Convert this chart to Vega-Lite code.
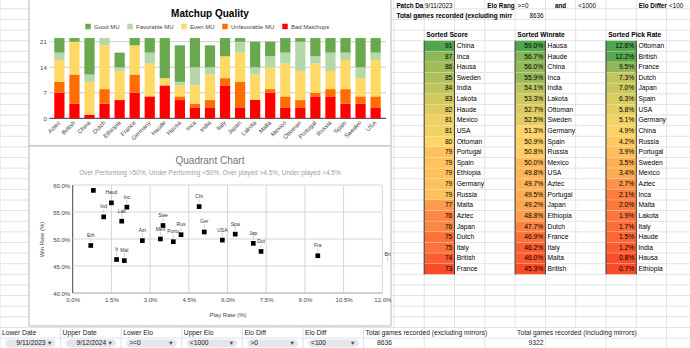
{
"$schema":"https://vega.github.io/schema/vega-lite/v6.json",
"width":690,"height":348,"autosize":"none","padding":0,"background":"#ffffff",
"config":{"view":{"stroke":null},"font":"Liberation Sans",
 "axis":{"labelFont":"Liberation Sans","titleFont":"Liberation Sans","grid":false,"ticks":false,"domain":false,"labelColor":"#444444","titleColor":"#444444","labelFontSize":6,"titleFontSize":6,"titleFontWeight":"normal","labelOverlap":false,"labelFlush":false,"labelBound":false},
 "legend":{"labelFont":"Liberation Sans"}},
"datasets":{
 "cols":[{"col":0},{"col":1},{"col":2},{"col":3},{"col":4},{"col":5},{"col":6},{"col":7},{"col":8},{"col":9},{"col":10},{"col":11},{"col":12},{"col":13},{"col":14},{"col":15},{"col":16},{"col":17},{"col":18},{"col":19},{"col":20},{"col":21},{"col":22},{"col":23}],
 "rows":[{"row":-4},{"row":-3},{"row":-2},{"row":-1},{"row":0},{"row":1},{"row":2},{"row":3},{"row":4},{"row":5},{"row":6},{"row":7},{"row":8},{"row":9},{"row":10},{"row":11},{"row":12},{"row":13},{"row":14},{"row":15},{"row":16},{"row":17},{"row":18},{"row":19},{"row":20},{"row":21},{"row":22},{"row":23},{"row":24},{"row":25},{"row":26},{"row":27},{"row":28},{"row":29}],
 "header":[
  {"row":-4,"col":13,"text":"Patch Date","kind":"label"},
  {"row":-4,"col":14,"text":"9/11/2023","kind":"number"},
  {"row":-4,"col":16,"text":"Elo Range","kind":"label"},
  {"row":-4,"col":17,"text":">=0","kind":"value"},
  {"row":-4,"col":18,"text":"and","kind":"center"},
  {"row":-4,"col":19,"text":"<1000","kind":"value"},
  {"row":-4,"col":21,"text":"Elo Difference","kind":"label"},
  {"row":-4,"col":22,"text":"<100","kind":"value"},
  {"row":-3,"col":13,"text":"Total games recorded (excluding mirrors)","kind":"wide"},
  {"row":-3,"col":17,"text":"8636","kind":"number"}],
 "filters":[
  {"name":"Lower Date","value":"9/11/2023","col":0,"colEnd":2,"vtype":"date"},
  {"name":"Upper Date","value":"9/12/2024","col":2,"colEnd":4,"vtype":"date"},
  {"name":"Lower Elo","value":">=0","col":4,"colEnd":6,"vtype":"text"},
  {"name":"Upper Elo","value":"<1000","col":6,"colEnd":8,"vtype":"text"},
  {"name":"Elo Diff","value":">0","col":8,"colEnd":10,"vtype":"text"},
  {"name":"Elo Diff","value":"<100","col":10,"colEnd":12,"vtype":"text"}],
 "totals":[
  {"name":"Total games recorded (excluding mirrors)","value":"8636","col":12,"colEnd":13},
  {"name":"Total games recorded (including mirrors)","value":"9322","col":17,"colEnd":18}],
 "mu":[
  {"civ":"Aztec","q":"Bad Matchups","lv":1,"n":7},{"civ":"Aztec","q":"Unfavorable MU","lv":2,"n":3},{"civ":"Aztec","q":"Even MU","lv":3,"n":6},{"civ":"Aztec","q":"Favorable MU","lv":4,"n":2},{"civ":"Aztec","q":"Good MU","lv":5,"n":4},
  {"civ":"British","q":"Bad Matchups","lv":1,"n":4},{"civ":"British","q":"Unfavorable MU","lv":2,"n":8},{"civ":"British","q":"Even MU","lv":3,"n":9},{"civ":"British","q":"Good MU","lv":5,"n":1},
  {"civ":"China","q":"Bad Matchups","lv":1,"n":1},{"civ":"China","q":"Even MU","lv":3,"n":9},{"civ":"China","q":"Favorable MU","lv":4,"n":2},{"civ":"China","q":"Good MU","lv":5,"n":10},
  {"civ":"Dutch","q":"Bad Matchups","lv":1,"n":4},{"civ":"Dutch","q":"Unfavorable MU","lv":2,"n":4},{"civ":"Dutch","q":"Even MU","lv":3,"n":12},{"civ":"Dutch","q":"Favorable MU","lv":4,"n":2},
  {"civ":"Ethiopia","q":"Bad Matchups","lv":1,"n":5},{"civ":"Ethiopia","q":"Even MU","lv":3,"n":8},{"civ":"Ethiopia","q":"Favorable MU","lv":4,"n":1},{"civ":"Ethiopia","q":"Good MU","lv":5,"n":4},
  {"civ":"France","q":"Bad Matchups","lv":1,"n":7},{"civ":"France","q":"Unfavorable MU","lv":2,"n":5},{"civ":"France","q":"Even MU","lv":3,"n":8},{"civ":"France","q":"Good MU","lv":5,"n":2},
  {"civ":"Germany","q":"Bad Matchups","lv":1,"n":6},{"civ":"Germany","q":"Even MU","lv":3,"n":9},{"civ":"Germany","q":"Favorable MU","lv":4,"n":3},{"civ":"Germany","q":"Good MU","lv":5,"n":4},
  {"civ":"Haude","q":"Bad Matchups","lv":1,"n":9},{"civ":"Haude","q":"Even MU","lv":3,"n":2},{"civ":"Haude","q":"Good MU","lv":5,"n":11},
  {"civ":"Hausa","q":"Bad Matchups","lv":1,"n":5},{"civ":"Hausa","q":"Unfavorable MU","lv":2,"n":1},{"civ":"Hausa","q":"Even MU","lv":3,"n":3},{"civ":"Hausa","q":"Favorable MU","lv":4,"n":1},{"civ":"Hausa","q":"Good MU","lv":5,"n":10},
  {"civ":"Inca","q":"Bad Matchups","lv":1,"n":3},{"civ":"Inca","q":"Unfavorable MU","lv":2,"n":1},{"civ":"Inca","q":"Even MU","lv":3,"n":5},{"civ":"Inca","q":"Favorable MU","lv":4,"n":5},{"civ":"Inca","q":"Good MU","lv":5,"n":8},
  {"civ":"India","q":"Bad Matchups","lv":1,"n":3},{"civ":"India","q":"Unfavorable MU","lv":2,"n":2},{"civ":"India","q":"Even MU","lv":3,"n":7},{"civ":"India","q":"Favorable MU","lv":4,"n":2},{"civ":"India","q":"Good MU","lv":5,"n":6},
  {"civ":"Italy","q":"Bad Matchups","lv":1,"n":9},{"civ":"Italy","q":"Unfavorable MU","lv":2,"n":2},{"civ":"Italy","q":"Even MU","lv":3,"n":6},{"civ":"Italy","q":"Good MU","lv":5,"n":5},
  {"civ":"Japan","q":"Bad Matchups","lv":1,"n":3},{"civ":"Japan","q":"Unfavorable MU","lv":2,"n":7},{"civ":"Japan","q":"Even MU","lv":3,"n":8},{"civ":"Japan","q":"Favorable MU","lv":4,"n":3},{"civ":"Japan","q":"Good MU","lv":5,"n":1},
  {"civ":"Lakota","q":"Bad Matchups","lv":1,"n":5},{"civ":"Lakota","q":"Even MU","lv":3,"n":7},{"civ":"Lakota","q":"Favorable MU","lv":4,"n":2},{"civ":"Lakota","q":"Good MU","lv":5,"n":7},
  {"civ":"Malta","q":"Bad Matchups","lv":1,"n":7},{"civ":"Malta","q":"Unfavorable MU","lv":2,"n":1},{"civ":"Malta","q":"Even MU","lv":3,"n":6},{"civ":"Malta","q":"Favorable MU","lv":4,"n":3},{"civ":"Malta","q":"Good MU","lv":5,"n":4},
  {"civ":"Mexico","q":"Bad Matchups","lv":1,"n":3},{"civ":"Mexico","q":"Unfavorable MU","lv":2,"n":3},{"civ":"Mexico","q":"Even MU","lv":3,"n":9},{"civ":"Mexico","q":"Favorable MU","lv":4,"n":3},{"civ":"Mexico","q":"Good MU","lv":5,"n":4},
  {"civ":"Ottoman","q":"Bad Matchups","lv":1,"n":3},{"civ":"Ottoman","q":"Unfavorable MU","lv":2,"n":2},{"civ":"Ottoman","q":"Even MU","lv":3,"n":8},{"civ":"Ottoman","q":"Favorable MU","lv":4,"n":8},{"civ":"Ottoman","q":"Good MU","lv":5,"n":1},
  {"civ":"Portugal","q":"Bad Matchups","lv":1,"n":6},{"civ":"Portugal","q":"Unfavorable MU","lv":2,"n":1},{"civ":"Portugal","q":"Even MU","lv":3,"n":8},{"civ":"Portugal","q":"Favorable MU","lv":4,"n":2},{"civ":"Portugal","q":"Good MU","lv":5,"n":5},
  {"civ":"Russia","q":"Bad Matchups","lv":1,"n":6},{"civ":"Russia","q":"Unfavorable MU","lv":2,"n":2},{"civ":"Russia","q":"Even MU","lv":3,"n":5},{"civ":"Russia","q":"Favorable MU","lv":4,"n":5},{"civ":"Russia","q":"Good MU","lv":5,"n":4},
  {"civ":"Spain","q":"Bad Matchups","lv":1,"n":4},{"civ":"Spain","q":"Unfavorable MU","lv":2,"n":4},{"civ":"Spain","q":"Even MU","lv":3,"n":8},{"civ":"Spain","q":"Favorable MU","lv":4,"n":2},{"civ":"Spain","q":"Good MU","lv":5,"n":4},
  {"civ":"Sweden","q":"Bad Matchups","lv":1,"n":4},{"civ":"Sweden","q":"Unfavorable MU","lv":2,"n":2},{"civ":"Sweden","q":"Even MU","lv":3,"n":5},{"civ":"Sweden","q":"Favorable MU","lv":4,"n":3},{"civ":"Sweden","q":"Good MU","lv":5,"n":8},
  {"civ":"USA","q":"Bad Matchups","lv":1,"n":3},{"civ":"USA","q":"Unfavorable MU","lv":2,"n":3},{"civ":"USA","q":"Even MU","lv":3,"n":10},{"civ":"USA","q":"Favorable MU","lv":4,"n":2},{"civ":"USA","q":"Good MU","lv":5,"n":4}],
 "civs":[
  {"civ":"Aztec","abbr":"Azt","pick":0.027,"win":0.497},
  {"civ":"British","abbr":"Bri","pick":0.122,"win":0.453},
  {"civ":"China","abbr":"Chi","pick":0.049,"win":0.560},
  {"civ":"Dutch","abbr":"Dut","pick":0.073,"win":0.477},
  {"civ":"Ethiopia","abbr":"Eth","pick":0.007,"win":0.488},
  {"civ":"France","abbr":"Fra","pick":0.095,"win":0.469},
  {"civ":"Germany","abbr":"Ger","pick":0.051,"win":0.513},
  {"civ":"Haude","abbr":"Haud","pick":0.015,"win":0.567},
  {"civ":"Hausa","abbr":"","pick":0.008,"win":0.590},
  {"civ":"Inca","abbr":"Inc","pick":0.021,"win":0.559},
  {"civ":"India","abbr":"Ind","pick":0.012,"win":0.541},
  {"civ":"Italy","abbr":"It","pick":0.017,"win":0.462},
  {"civ":"Japan","abbr":"Jap","pick":0.070,"win":0.492},
  {"civ":"Lakota","abbr":"Lak","pick":0.019,"win":0.533},
  {"civ":"Malta","abbr":"Mal","pick":0.020,"win":0.460},
  {"civ":"Mexico","abbr":"Mex","pick":0.034,"win":0.500},
  {"civ":"Ottoman","abbr":"Ott","pick":0.126,"win":0.527},
  {"civ":"Portugal","abbr":"Portu","pick":0.039,"win":0.495},
  {"civ":"Russia","abbr":"Rus","pick":0.042,"win":0.508},
  {"civ":"Spain","abbr":"Spa","pick":0.063,"win":0.509},
  {"civ":"Sweden","abbr":"Swe","pick":0.035,"win":0.525},
  {"civ":"USA","abbr":"USA","pick":0.058,"win":0.498}],
 "table":[
  {"rank":1,"score":91,"sCiv":"China","win":0.590,"wCiv":"Hausa","pick":0.126,"pCiv":"Ottoman"},
  {"rank":2,"score":87,"sCiv":"Inca","win":0.567,"wCiv":"Haude","pick":0.122,"pCiv":"British"},
  {"rank":3,"score":86,"sCiv":"Hausa","win":0.560,"wCiv":"China","pick":0.095,"pCiv":"France"},
  {"rank":4,"score":85,"sCiv":"Sweden","win":0.559,"wCiv":"Inca","pick":0.073,"pCiv":"Dutch"},
  {"rank":5,"score":84,"sCiv":"India","win":0.541,"wCiv":"India","pick":0.070,"pCiv":"Japan"},
  {"rank":6,"score":83,"sCiv":"Lakota","win":0.533,"wCiv":"Lakota","pick":0.063,"pCiv":"Spain"},
  {"rank":7,"score":82,"sCiv":"Haude","win":0.527,"wCiv":"Ottoman","pick":0.058,"pCiv":"USA"},
  {"rank":8,"score":81,"sCiv":"Mexico","win":0.525,"wCiv":"Sweden","pick":0.051,"pCiv":"Germany"},
  {"rank":9,"score":81,"sCiv":"USA","win":0.513,"wCiv":"Germany","pick":0.049,"pCiv":"China"},
  {"rank":10,"score":80,"sCiv":"Ottoman","win":0.509,"wCiv":"Spain","pick":0.042,"pCiv":"Russia"},
  {"rank":11,"score":79,"sCiv":"Portugal","win":0.508,"wCiv":"Russia","pick":0.039,"pCiv":"Portugal"},
  {"rank":12,"score":79,"sCiv":"Spain","win":0.500,"wCiv":"Mexico","pick":0.035,"pCiv":"Sweden"},
  {"rank":13,"score":79,"sCiv":"Ethiopia","win":0.498,"wCiv":"USA","pick":0.034,"pCiv":"Mexico"},
  {"rank":14,"score":79,"sCiv":"Germany","win":0.497,"wCiv":"Aztec","pick":0.027,"pCiv":"Aztec"},
  {"rank":15,"score":79,"sCiv":"Russia","win":0.495,"wCiv":"Portugal","pick":0.021,"pCiv":"Inca"},
  {"rank":16,"score":77,"sCiv":"Malta","win":0.492,"wCiv":"Japan","pick":0.020,"pCiv":"Malta"},
  {"rank":17,"score":76,"sCiv":"Aztec","win":0.488,"wCiv":"Ethiopia","pick":0.019,"pCiv":"Lakota"},
  {"rank":18,"score":76,"sCiv":"Japan","win":0.477,"wCiv":"Dutch","pick":0.017,"pCiv":"Italy"},
  {"rank":19,"score":75,"sCiv":"Dutch","win":0.469,"wCiv":"France","pick":0.015,"pCiv":"Haude"},
  {"rank":20,"score":75,"sCiv":"Italy","win":0.462,"wCiv":"Italy","pick":0.012,"pCiv":"India"},
  {"rank":21,"score":74,"sCiv":"British","win":0.460,"wCiv":"Malta","pick":0.008,"pCiv":"Hausa"},
  {"rank":22,"score":73,"sCiv":"France","win":0.453,"wCiv":"British","pick":0.007,"pCiv":"Ethiopia"}],
 "heads":[{"col":"O","title":"Sorted Score"},{"col":"R","title":"Sorted Winrate"},{"col":"U","title":"Sorted Pick Rate"}]
},
"layer":[
 {"layer":[
  {"data":{"name":"cols"},"mark":{"type":"rule","color":"#e2e2e2","strokeWidth":1},
   "encoding":{"x":{"field":"col","type":"quantitative","scale":{"domain":[0,23],"range":[0,696.9],"nice":false,"zero":false},"axis":null},
    "y":{"datum":-4.5,"type":"quantitative","scale":{"domain":[-4,29],"range":[-1.78,348.68],"nice":false,"zero":false},"axis":null},"y2":{"datum":27}}},
  {"data":{"name":"cols"},"transform":[{"filter":"datum.col % 2 === 0"}],"mark":{"type":"rule","color":"#e2e2e2","strokeWidth":1},
   "encoding":{"x":{"field":"col","type":"quantitative"},"y":{"datum":27,"type":"quantitative"},"y2":{"datum":29.5}}},
  {"data":{"name":"rows"},"mark":{"type":"rule","color":"#e2e2e2","strokeWidth":1},
   "encoding":{"y":{"field":"row","type":"quantitative"},"x":{"datum":0,"type":"quantitative"},"x2":{"datum":23}}},
  {"data":{"values":[{}]},"mark":{"type":"rect","fill":"#ffffff","stroke":"#b8b8b8","strokeWidth":1},
   "encoding":{"x":{"datum":0.957,"type":"quantitative"},"x2":{"datum":12.904},"y":{"datum":-4.6,"type":"quantitative"},"y2":{"datum":9.915}}},
  {"data":{"values":[{}]},"mark":{"type":"rect","fill":"#ffffff","stroke":"#b8b8b8","strokeWidth":1},
   "encoding":{"x":{"datum":0.957,"type":"quantitative"},"x2":{"datum":12.904},"y":{"datum":9.915,"type":"quantitative"},"y2":{"datum":26.86}}},
  {"data":{"values":[{}]},"mark":{"type":"text","align":"center","baseline":"middle","fontSize":10,"fontWeight":"bold","color":"#000000"},
   "encoding":{"x":{"datum":6.93,"type":"quantitative"},"y":{"datum":-2.51,"type":"quantitative"},"text":{"value":"Matchup Quality"}}},
  {"data":{"values":[{}]},"mark":{"type":"text","align":"center","baseline":"middle","fontSize":10,"color":"#757575"},
   "encoding":{"x":{"datum":6.93,"type":"quantitative"},"y":{"datum":11.33,"type":"quantitative"},"text":{"value":"Quadrant Chart"}}},
  {"data":{"values":[{}]},"mark":{"type":"text","align":"center","baseline":"middle","fontSize":6.5,"color":"#9e9e9e"},
   "encoding":{"x":{"datum":6.93,"type":"quantitative"},"y":{"datum":12.46,"type":"quantitative"},"text":{"value":"Over Performing >50%, Under Performing <50%, Over played >4.5%, Under played <4.5%"}}},
  {"data":{"name":"header"},"transform":[{"filter":"datum.kind === 'label'"}],
   "mark":{"type":"text","align":"left","baseline":"middle","dx":2.5,"dy":7.3,"fontSize":6.3,"fontWeight":"bold","color":"#000000","limit":28.2,"ellipsis":"\u200b"},
   "encoding":{"x":{"field":"col","type":"quantitative"},"y":{"field":"row","type":"quantitative"},"text":{"field":"text"}}},
  {"data":{"name":"header"},"transform":[{"filter":"datum.kind === 'wide'"}],
   "mark":{"type":"text","align":"left","baseline":"middle","dx":2.5,"dy":7.3,"fontSize":6.5,"fontWeight":"bold","color":"#000000","limit":118,"ellipsis":"\u200b"},
   "encoding":{"x":{"field":"col","type":"quantitative"},"y":{"field":"row","type":"quantitative"},"text":{"field":"text"}}},
  {"data":{"name":"header"},"transform":[{"filter":"datum.kind === 'center'"}],
   "mark":{"type":"text","align":"center","baseline":"middle","dx":15.15,"dy":7.3,"fontSize":6.3,"fontWeight":"bold","color":"#000000"},
   "encoding":{"x":{"field":"col","type":"quantitative"},"y":{"field":"row","type":"quantitative"},"text":{"field":"text"}}},
  {"data":{"name":"header"},"transform":[{"filter":"datum.kind === 'value'"}],
   "mark":{"type":"text","align":"left","baseline":"middle","dx":2.5,"dy":7.3,"fontSize":6.3,"color":"#000000"},
   "encoding":{"x":{"field":"col","type":"quantitative"},"y":{"field":"row","type":"quantitative"},"text":{"field":"text"}}},
  {"data":{"name":"header"},"transform":[{"filter":"datum.kind === 'number'"}],
   "mark":{"type":"text","align":"right","baseline":"middle","dx":28.3,"dy":7.3,"fontSize":6.3,"color":"#000000"},
   "encoding":{"x":{"field":"col","type":"quantitative"},"y":{"field":"row","type":"quantitative"},"text":{"field":"text"}}},
  {"data":{"name":"filters"},"mark":{"type":"text","align":"left","baseline":"middle","dx":2,"dy":5.3,"fontSize":6.7,"color":"#222222"},
   "encoding":{"x":{"field":"col","type":"quantitative"},"y":{"datum":27,"type":"quantitative"},"text":{"field":"name"}}},
  {"data":{"name":"filters"},"mark":{"type":"rect","fill":"#e4e6e9","cornerRadius":4,"xOffset":5,"x2Offset":-5,"yOffset":1.5,"y2Offset":-1.5},
   "encoding":{"x":{"field":"col","type":"quantitative"},"x2":{"field":"colEnd"},"y":{"datum":28,"type":"quantitative"},"y2":{"datum":29}}},
  {"data":{"name":"filters"},"transform":[{"filter":"datum.vtype === 'date'"}],"mark":{"type":"text","align":"right","baseline":"middle","dx":-15,"dy":5.3,"fontSize":6.7,"color":"#222222"},
   "encoding":{"x":{"field":"colEnd","type":"quantitative"},"y":{"datum":28,"type":"quantitative"},"text":{"field":"value"}}},
  {"data":{"name":"filters"},"transform":[{"filter":"datum.vtype === 'text'"}],"mark":{"type":"text","align":"left","baseline":"middle","dx":8,"dy":5.3,"fontSize":6.7,"color":"#222222"},
   "encoding":{"x":{"field":"col","type":"quantitative"},"y":{"datum":28,"type":"quantitative"},"text":{"field":"value"}}},
  {"data":{"name":"filters"},"mark":{"type":"text","align":"center","baseline":"middle","dx":-11,"dy":5.3,"fontSize":6.5,"font":"DejaVu Sans","color":"#444444"},
   "encoding":{"x":{"field":"colEnd","type":"quantitative"},"y":{"datum":28,"type":"quantitative"},"text":{"value":"▾"}}},
  {"data":{"name":"totals"},"mark":{"type":"text","align":"left","baseline":"middle","dx":2,"dy":5.3,"fontSize":6.7,"color":"#222222"},
   "encoding":{"x":{"field":"col","type":"quantitative"},"y":{"datum":27,"type":"quantitative"},"text":{"field":"name"}}},
  {"data":{"name":"totals"},"mark":{"type":"text","align":"right","baseline":"middle","dx":-2,"dy":5.3,"fontSize":6.7,"color":"#222222"},
   "encoding":{"x":{"field":"colEnd","type":"quantitative"},"y":{"datum":28,"type":"quantitative"},"text":{"field":"value"}}}
 ]},
 {"layer":[
  {"data":{"values":[{"v":0},{"v":7},{"v":14},{"v":21}]},"mark":{"type":"rule","strokeWidth":1},
   "encoding":{"y":{"field":"v","type":"quantitative","scale":{"domain":[0,22],"range":[118.3,38.05],"nice":false,"zero":true},"axis":null},
    "x":{"datum":0,"type":"quantitative","scale":{"domain":[0,1],"range":[49.3,386],"nice":false,"zero":false},"axis":null},"x2":{"datum":1},
    "color":{"condition":{"test":"datum.v === 0","value":"#333333"},"value":"#cccccc"}}},
  {"data":{"name":"mu"},"mark":{"type":"bar"},
   "encoding":{
    "x":{"field":"civ","type":"nominal","scale":{"domain":["Aztec","British","China","Dutch","Ethiopia","France","Germany","Haude","Hausa","Inca","India","Italy","Japan","Lakota","Malta","Mexico","Ottoman","Portugal","Russia","Spain","Sweden","USA"],"range":[49,386],"paddingInner":0.32,"paddingOuter":0.35},
     "axis":{"orient":"bottom","offset":-229.7,"zindex":3,"labelAngle":-45,"labelAlign":"right","labelBaseline":"middle","labelFontSize":6,"labelColor":"#444444","labelPadding":3,"title":null}},
    "y":{"field":"n","type":"quantitative","stack":"zero","scale":{"domain":[0,22],"range":[118.3,38.05],"nice":false,"zero":true},
     "axis":{"orient":"left","offset":-49.3,"zindex":3,"values":[0,7,14,21],"labelFontSize":6,"labelColor":"#444444","labelPadding":3,"title":null}},
    "color":{"field":"q","type":"nominal","scale":{"domain":["Good MU","Favorable MU","Even MU","Unfavorable MU","Bad Matchups"],"range":["#6aa84f","#b6d7a8","#ffd966","#ff6d01","#ff0000"]},
     "legend":{"orient":"none","legendX":85,"legendY":23.5,"direction":"horizontal","title":null,"symbolType":"square","symbolSize":30,"symbolStrokeWidth":0,"labelFontSize":6,"labelColor":"#444444","columnPadding":7,"labelOffset":3,"padding":0}},
    "order":{"field":"lv","type":"quantitative"}}}
 ],"resolve":{"scale":{"x":"independent"},"axis":{"x":"independent","y":"independent"}}},
 {"layer":[
  {"data":{"values":[{"v":0},{"v":0.015},{"v":0.03},{"v":0.045},{"v":0.06},{"v":0.075},{"v":0.09},{"v":0.105},{"v":0.12}]},"mark":{"type":"rule","strokeWidth":1},
   "encoding":{"x":{"field":"v","type":"quantitative","scale":{"domain":[0,0.12],"range":[72.7,382.3],"nice":false,"zero":false},"axis":null},
    "y":{"datum":0.4,"type":"quantitative","scale":{"domain":[0.4,0.6],"range":[293,185],"nice":false,"zero":false},"axis":null},"y2":{"datum":0.6},
    "color":{"condition":{"test":"datum.v === 0","value":"#444444"},"value":"#d6d6d6"}}},
  {"data":{"values":[{"v":0.4},{"v":0.45},{"v":0.5},{"v":0.55},{"v":0.6}]},"mark":{"type":"rule","strokeWidth":1},
   "encoding":{"y":{"field":"v","type":"quantitative","axis":null},"x":{"datum":0,"type":"quantitative","axis":null},"x2":{"datum":0.12},
    "color":{"condition":{"test":"datum.v === 0.4","value":"#a0a0a0"},"value":"#d6d6d6"}}},
  {"data":{"name":"civs"},"transform":[{"filter":"datum.abbr !== '' && datum.pick <= 0.123"}],"mark":{"type":"rule","color":"#d0d0d0","strokeWidth":1,"yOffset":-3.5,"y2Offset":-7.5},
   "encoding":{"x":{"field":"pick","type":"quantitative","axis":null},"y":{"field":"win","type":"quantitative","axis":null},"y2":{"field":"win"}}},
  {"data":{"name":"civs"},"transform":[{"filter":"datum.pick <= 0.12"}],"mark":{"type":"point","shape":"square","filled":true,"size":22,"color":"#000000","opacity":1},
   "encoding":{"x":{"field":"pick","type":"quantitative","axis":{"orient":"bottom","offset":-55,"zindex":3,"values":[0,0.015,0.03,0.045,0.06,0.075,0.09,0.105,0.12],"format":".1%","labelFontSize":6,"labelColor":"#444444","labelPadding":3,"title":"Play Rate (%)","titlePadding":9}},
    "y":{"field":"win","type":"quantitative","axis":{"orient":"left","offset":-72.7,"zindex":3,"values":[0.4,0.45,0.5,0.55,0.6],"format":".1%","labelFontSize":6,"labelColor":"#444444","labelPadding":3,"title":"Win Rate (%)","titlePadding":8}}}},
  {"data":{"name":"civs"},"transform":[{"filter":"datum.abbr !== '' && datum.pick <= 0.123"}],"mark":{"type":"text","align":"center","baseline":"middle","dy":-10.5,"fontSize":5,"color":"#333333"},
   "encoding":{"x":{"field":"pick","type":"quantitative","axis":null},"y":{"field":"win","type":"quantitative","axis":null},"text":{"field":"abbr"}}}
 ],"resolve":{"axis":{"x":"independent","y":"independent"}}},
 {"layer":[
  {"data":{"name":"table"},"mark":{"type":"rect","stroke":"#ffffff","strokeOpacity":0.35,"strokeWidth":0.5},
   "encoding":{"x":{"datum":"O","type":"nominal","scale":{"domain":["O","P","Q","R","S","T","U","V","W"],"range":[424.2,696.9],"paddingInner":0,"paddingOuter":0},"axis":null},
    "y":{"field":"rank","type":"ordinal","scale":{"domain":[0,1,2,3,4,5,6,7,8,9,10,11,12,13,14,15,16,17,18,19,20,21,22],"range":[30.08,274.34],"paddingInner":0,"paddingOuter":0},"axis":null},
    "color":{"field":"score","type":"quantitative","scale":{"domain":[73,80,91],"range":["#fb4a28","#ffd666","#4fa64e"],"interpolate":"rgb"},"legend":null}}},
  {"data":{"name":"table"},"mark":{"type":"rect","stroke":"#ffffff","strokeOpacity":0.35,"strokeWidth":0.5},
   "encoding":{"x":{"datum":"R","type":"nominal"},"y":{"field":"rank","type":"ordinal"},
    "color":{"field":"win","type":"quantitative","scale":{"domain":[0.453,0.512,0.59],"range":["#fb4a28","#ffd666","#4fa64e"],"interpolate":"rgb"},"legend":null}}},
  {"data":{"name":"table"},"mark":{"type":"rect","stroke":"#ffffff","strokeOpacity":0.35,"strokeWidth":0.5},
   "encoding":{"x":{"datum":"U","type":"nominal"},"y":{"field":"rank","type":"ordinal"},
    "color":{"field":"pick","type":"quantitative","scale":{"domain":[0.007,0.0455,0.126],"range":["#fb4a28","#ffd666","#4fa64e"],"interpolate":"rgb"},"legend":null}}},
  {"data":{"name":"table"},"mark":{"type":"text","align":"right","baseline":"middle","dx":13,"fontSize":6.7,"color":"#000000"},
   "encoding":{"x":{"datum":"O","type":"nominal"},"y":{"field":"rank","type":"ordinal"},"text":{"field":"score","type":"quantitative","format":"d"}}},
  {"data":{"name":"table"},"mark":{"type":"text","align":"left","baseline":"middle","dx":-13,"fontSize":6.7,"color":"#000000"},
   "encoding":{"x":{"datum":"P","type":"nominal"},"y":{"field":"rank","type":"ordinal"},"text":{"field":"sCiv"}}},
  {"data":{"name":"table"},"mark":{"type":"text","align":"right","baseline":"middle","dx":13,"fontSize":6.7,"color":"#000000"},
   "encoding":{"x":{"datum":"R","type":"nominal"},"y":{"field":"rank","type":"ordinal"},"text":{"field":"win","type":"quantitative","format":".1%"}}},
  {"data":{"name":"table"},"mark":{"type":"text","align":"left","baseline":"middle","dx":-13,"fontSize":6.7,"color":"#000000"},
   "encoding":{"x":{"datum":"S","type":"nominal"},"y":{"field":"rank","type":"ordinal"},"text":{"field":"wCiv"}}},
  {"data":{"name":"table"},"mark":{"type":"text","align":"right","baseline":"middle","dx":13,"fontSize":6.7,"color":"#000000"},
   "encoding":{"x":{"datum":"U","type":"nominal"},"y":{"field":"rank","type":"ordinal"},"text":{"field":"pick","type":"quantitative","format":".1%"}}},
  {"data":{"name":"table"},"mark":{"type":"text","align":"left","baseline":"middle","dx":-13,"fontSize":6.7,"color":"#000000"},
   "encoding":{"x":{"datum":"V","type":"nominal"},"y":{"field":"rank","type":"ordinal"},"text":{"field":"pCiv"}}},
  {"data":{"name":"heads"},"mark":{"type":"text","align":"left","baseline":"middle","dx":-13,"fontSize":6.7,"fontWeight":"bold","color":"#000000"},
   "encoding":{"x":{"field":"col","type":"nominal"},"y":{"datum":0,"type":"ordinal"},"text":{"field":"title"}}},
  {"data":{"name":"heads"},"mark":{"type":"rule","color":"#3a3a3a","strokeWidth":1,"xOffset":-15.15,"yOffset":-5.31,"y2Offset":5.31},
   "encoding":{"x":{"field":"col","type":"nominal"},"y":{"datum":1,"type":"ordinal"},"y2":{"datum":22}}},
  {"data":{"name":"heads"},"mark":{"type":"rule","color":"#3a3a3a","strokeWidth":1,"xOffset":15.15,"yOffset":-5.31,"y2Offset":5.31},
   "encoding":{"x":{"field":"col","type":"nominal"},"y":{"datum":1,"type":"ordinal"},"y2":{"datum":22}}}
 ],"resolve":{"scale":{"color":"independent"},"legend":{"color":"independent"}}}
],
"resolve":{"scale":{"x":"independent","y":"independent","color":"independent"},"axis":{"x":"independent","y":"independent"},"legend":{"color":"independent"}}
}
